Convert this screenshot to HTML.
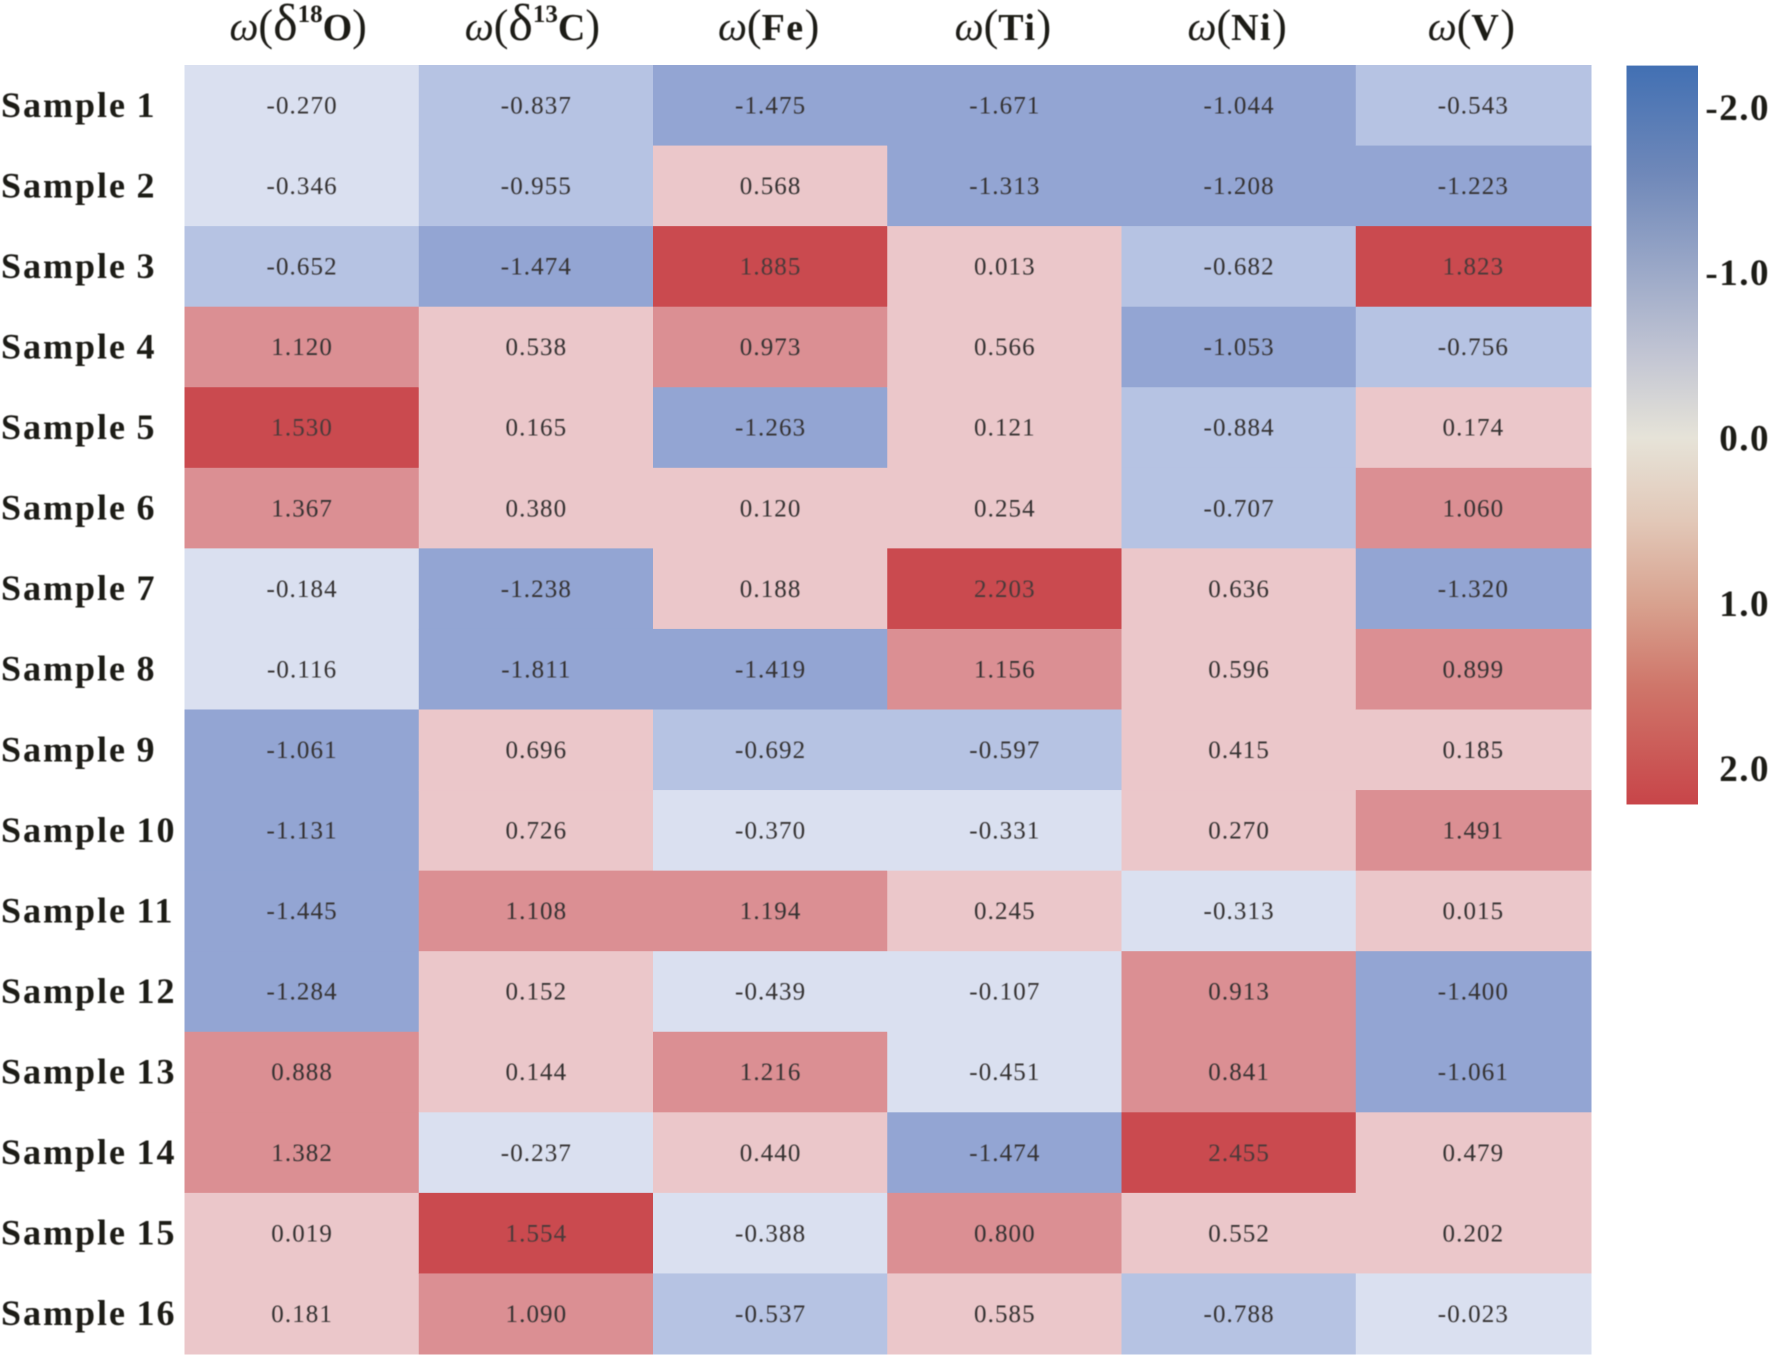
<!DOCTYPE html>
<html lang="en">
<head>
<meta charset="utf-8">
<title>Sample heatmap</title>
<style>
html,body{margin:0;padding:0;background:#fff;width:1772px;height:1359px;overflow:hidden}
svg{display:block}
text{font-family:"Liberation Serif",serif}
.val{font-size:25px;letter-spacing:1.1px;text-anchor:middle;fill:#343131}
.row{font-size:36px;font-weight:bold;letter-spacing:2px;word-spacing:-1.5px;fill:#1f1a17}
.col{font-size:38px;font-weight:bold;text-anchor:middle;fill:#1f1a17}
.tick{font-size:37px;font-weight:bold;letter-spacing:1.5px;text-anchor:end;fill:#1f1a17}
</style>
</head>
<body>
<svg id="chart" xmlns="http://www.w3.org/2000/svg" width="1772" height="1359" viewBox="0 0 1772 1359">
<defs>
<linearGradient id="barGrad" x1="0" y1="0" x2="0" y2="1"></linearGradient>
<filter id="soft" x="-5%" y="-5%" width="110%" height="110%"><feGaussianBlur stdDeviation="0.45"/></filter>
</defs>
<g id="cells"></g>
<g id="values" filter="url(#soft)"></g>
<g id="rowLabels" filter="url(#soft)"></g>
<g id="colLabels" filter="url(#soft)"></g>
<rect id="bar" fill="url(#barGrad)"></rect>
<g id="ticks" filter="url(#soft)"></g>
</svg>
<script>
var samples = ["Sample 1","Sample 2","Sample 3","Sample 4","Sample 5","Sample 6","Sample 7","Sample 8","Sample 9","Sample 10","Sample 11","Sample 12","Sample 13","Sample 14","Sample 15","Sample 16"];
var delta18O = [-0.270,-0.346,-0.652,1.120,1.530,1.367,-0.184,-0.116,-1.061,-1.131,-1.445,-1.284,0.888,1.382,0.019,0.181];
var delta13C = [-0.837,-0.955,-1.474,0.538,0.165,0.380,-1.238,-1.811,0.696,0.726,1.108,0.152,0.144,-0.237,1.554,1.090];
var fe = [-1.475,0.568,1.885,0.973,-1.263,0.120,0.188,-1.419,-0.692,-0.370,1.194,-0.439,1.216,0.440,-0.388,-0.537];
var ti = [-1.671,-1.313,0.013,0.566,0.121,0.254,2.203,1.156,-0.597,-0.331,0.245,-0.107,-0.451,-1.474,0.800,0.585];
var ni = [-1.044,-1.208,-0.682,-1.053,-0.884,-0.707,0.636,0.596,0.415,0.270,-0.313,0.913,0.841,2.455,0.552,-0.788];
var v = [-0.543,-1.223,1.823,-0.756,0.174,1.060,-1.320,0.899,0.185,1.491,0.015,-1.400,-1.061,0.479,0.202,-0.023];
var columns = [delta18O,delta13C,fe,ti,ni,v];
var columnSymbols = ["δ","δ","","","",""];
var columnSupers = ["18","13","","","",""];
var columnNames = ["O","C","Fe","Ti","Ni","V"];
var binEdges = [-1,-0.5,0,0.8,1.5];
var binColors = ["#93a5d3","#b6c3e3","#dae0f0","#ebc7ca","#db8f93","#ca4a4f"];
var barTicks = [-2,-1,0,1,2];
var barDomain = [-2.253,2.217];
var gradValues = [-2.25,-1.6,-1,-0.5,0,0.5,1,1.5,2.215];
var gradColors = ["#4270b3","#6f88b9","#9ca9c8","#c2c5d3","#e6e3d8","#e2c8b8","#d8a28f","#cf766a","#c84549"];

var SVGNS = "http://www.w3.org/2000/svg";
var plot = {left:184.5,right:1590,top:65,bottom:1354};
function xBand(i){return plot.left+(plot.right-plot.left)*i/columns.length;}
function yBand(i){return plot.top+(plot.bottom-plot.top)*i/samples.length;}
function yBar(val){return 438+165.3*val;}
function colorOf(val){
  for(var i=0;i<binEdges.length;i++){ if(val<binEdges[i]) return binColors[i]; }
  return binColors[binColors.length-1];
}
function mk(tag,parent){var e=document.createElementNS(SVGNS,tag);parent.appendChild(e);return e;}

var cellsG=document.getElementById("cells"),valuesG=document.getElementById("values"),
    rowG=document.getElementById("rowLabels"),colG=document.getElementById("colLabels"),
    ticksG=document.getElementById("ticks");

columns.forEach(function(col,c){
  col.forEach(function(val,r){
    var rect=mk("rect",cellsG);
    
    
    rect.setAttribute("x",xBand(c));
    rect.setAttribute("y",yBand(r));
    rect.setAttribute("width",xBand(c+1)-xBand(c)+(c===columns.length-1?1.5:0.5));
    rect.setAttribute("height",yBand(r+1)-yBand(r)+0.5);
    rect.setAttribute("fill",colorOf(val));
    var t=mk("text",valuesG);
    
    
    t.setAttribute("class","val");
    t.setAttribute("x",(xBand(c)+xBand(c+1))/2+0.5);
    t.setAttribute("y",(yBand(r)+yBand(r+1))/2+8.2);
    if(colorOf(val)===binColors[5]) t.setAttribute("style","fill:#4a3a3a");
    t.textContent=val.toFixed(3);
  });
});

samples.forEach(function(s,r){
  var t=mk("text",rowG);
  
  
  t.setAttribute("class","row");
  t.setAttribute("x",1);
  t.setAttribute("y",(yBand(r)+yBand(r+1))/2+11.5);
  t.textContent=s;
});

columnNames.forEach(function(n,c){
  var t=mk("text",colG);
  
  
  t.setAttribute("class","col");
  t.setAttribute("x",(xBand(c)+xBand(c+1))/2-(columnSymbols[c]?3.5:1.5));
  t.setAttribute("y",40);
  var a=mk("tspan",t);a.setAttribute("font-style","italic");a.setAttribute("font-weight","normal");a.setAttribute("font-size","41");a.textContent="ω";
  var b=mk("tspan",t);b.setAttribute("font-weight","normal");b.setAttribute("font-size","44");b.textContent="(";
  if(columnSymbols[c]){
    var d=mk("tspan",t);d.setAttribute("font-weight","normal");d.setAttribute("font-size","52");d.textContent=columnSymbols[c];
    var e=mk("tspan",t);e.setAttribute("font-size","25");e.setAttribute("dy","-18");e.textContent=columnSupers[c];
    var f=mk("tspan",t);f.setAttribute("dy","18");f.textContent=n;
  }else{
    var g=mk("tspan",t);g.setAttribute("letter-spacing","1.5");g.textContent=n;
  }
  var h=mk("tspan",t);h.setAttribute("font-weight","normal");h.setAttribute("font-size","44");h.textContent=")";
});

var bar=document.getElementById("bar");
bar.setAttribute("x",1626.5);
bar.setAttribute("width",71.5);
bar.setAttribute("y",yBar(barDomain[0]));
bar.setAttribute("height",yBar(barDomain[1])-yBar(barDomain[0]));
var grad=document.getElementById("barGrad");
gradValues.forEach(function(val,i){
  var st=mk("stop",grad);
  st.setAttribute("offset",(val-barDomain[0])/(barDomain[1]-barDomain[0]));
  st.setAttribute("stop-color",gradColors[i]);
});
barTicks.forEach(function(val){
  var t=mk("text",ticksG);
  
  
  t.setAttribute("class","tick");
  t.setAttribute("x",1770);
  t.setAttribute("y",yBar(val)+12.5);
  t.textContent=val.toFixed(1);
});
</script>
</body>
</html>
